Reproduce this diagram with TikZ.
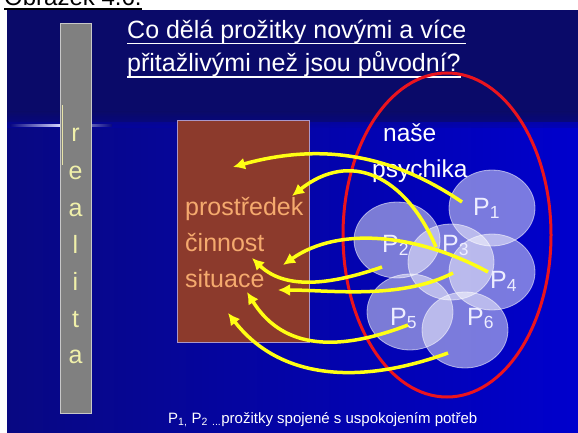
\documentclass[tikz,border=0pt]{standalone}
\usepackage{fontspec}
\setmainfont{Liberation Sans}
\usetikzlibrary{arrows.meta,shapes.geometric}
\definecolor{navy}{RGB}{10,10,105}
\definecolor{blueL}{RGB}{8,8,130}
\definecolor{blueR}{RGB}{0,0,205}
\definecolor{barGray}{RGB}{128,128,128}
\definecolor{barEdge}{RGB}{200,200,200}
\definecolor{barText}{RGB}{240,240,170}
\definecolor{boxFill}{RGB}{140,58,44}
\definecolor{boxEdge}{RGB}{170,150,200}
\definecolor{boxText}{RGB}{245,170,110}
\definecolor{ellRed}{RGB}{235,20,30}
\definecolor{arrowYellow}{RGB}{255,255,20}
\definecolor{labText}{RGB}{238,238,255}
\begin{document}
\begin{tikzpicture}[x=1pt,y=-1pt,
  titletext/.style={anchor=base west, inner sep=0, text=white, font=\fontsize{25}{25}\selectfont},
  bartext/.style={anchor=base, inner sep=0, text=barText, font=\fontsize{25}{25}\selectfont},
  boxtext/.style={anchor=base west, inner sep=0, text=boxText, font=\fontsize{25}{25}\selectfont},
  psytext/.style={anchor=base west, inner sep=0, text=white, font=\fontsize{24.5}{24.5}\selectfont},
  pcirc/.style={ellipse, minimum width=86pt, minimum height=76pt, inner sep=0, fill=white, fill opacity=0.48, draw=white, draw opacity=0.55, line width=0.8pt},
  plab/.style={anchor=base west, inner sep=0, text=labText, font=\fontsize{25}{25}\selectfont},
  arr/.style={draw=arrowYellow, line width=3.5pt, -{Latex[length=12pt,width=12pt]}},
  uline/.style={draw=white, line width=1.3pt}]
\useasboundingbox (0,0) rectangle (578,433);
\clip (0,0) rectangle (578,433);
\fill[white] (0,0) rectangle (578,433);
% caption above slide (cut off by the slide, as in the reference)
\node[anchor=base west, inner sep=0, font=\fontsize{24}{24}\selectfont] (cap) at (4,6) {Obrázek 4.6.};
\draw[line width=1.2pt] ([yshift=-3pt]cap.base west) -- ([yshift=-3pt]cap.base east);
% slide background
\fill[navy] (7,10) rectangle (578,433);
\shade[left color=blueL, right color=blueR] (7,123) rectangle (578,433);
\shade[top color=navy, bottom color=blueL!50!blueR, opacity=0.5] (7,112) rectangle (578,128);
% glare
\shade[left color=blueL, right color=blueL, middle color=white!85!blue] (10,124.3) rectangle (112,126.2);
% realita bar
\draw[draw=barEdge, fill=barGray, line width=0.6pt] (60,23) rectangle (91,413);
\draw[white!70!yellow, line width=0.8pt, opacity=0.8] (62,105) -- (62,165);
\node[bartext] (r1) at (75.5,142) {r};
\node[bartext] (r2) at (75.5,179) {e};
\node[bartext] (r3) at (75.5,216) {a};
\node[bartext] (r4) at (75.5,253) {l};
\node[bartext] (r5) at (75.5,290) {i};
\node[bartext] (r6) at (75.5,327) {t};
\node[bartext] (r7) at (75.5,363) {a};
% title
\node[titletext] (t1) at (127,39) {Co dělá prožitky novými a více};
\node[titletext] (t2) at (127,72) {přitažlivými než jsou původní?};
\draw[uline] ([yshift=-4.5pt]t1.base west) -- ([yshift=-4.5pt]t1.base east);
\draw[uline] ([yshift=-5pt]t2.base west) -- ([yshift=-5pt]t2.base east);
% brown box
\node[draw=boxEdge, fill=boxFill, line width=0.6pt, minimum width=132pt, minimum height=222pt, anchor=north west, inner sep=0] (box) at (177,120) {};
\node[boxtext] (b1) at (185,215) {prostředek};
\node[boxtext] (b2) at (185,251) {činnost};
\node[boxtext] (b3) at (185,287) {situace};
% psyche ellipse
\draw[ellRed, line width=3pt] (447,235) ellipse [x radius=104, y radius=162];
\node[psytext] (n1) at (383,142) {naše};
\node[psytext] (n2) at (372,177) {psychika};
% circles
\node[pcirc] (p1) at (492,208) {};
\node[pcirc] (p2) at (397,240) {};
\node[pcirc] (p3) at (451,262) {};
\node[pcirc] (p4) at (492,272) {};
\node[pcirc] (p5) at (410,312) {};
\node[pcirc] (p6) at (465,330) {};
\node[plab] (l1) at (473,215) {P\textsubscript{1}};
\node[plab] (l2) at (382,252) {P\textsubscript{2}};
\node[plab] (l3) at (442,252) {P\textsubscript{3}};
\node[plab] (l4) at (490,288) {P\textsubscript{4}};
\node[plab] (l5) at (390,325) {P\textsubscript{5}};
\node[plab] (l6) at (467,325) {P\textsubscript{6}};
% arrow ends
\coordinate (sA) at (462,202); \coordinate (tA) at (233,167);
\coordinate (sB) at (436,247); \coordinate (tB) at (292,196);
\coordinate (sC) at (488,272); \coordinate (tC) at (283,265);
\coordinate (sD) at (382,267); \coordinate (tD) at (252,258);
\coordinate (sE) at (453,273); \coordinate (tE) at (278,290);
\coordinate (sF) at (408,325); \coordinate (tF) at (247,292);
\coordinate (sG) at (448,353); \coordinate (tG) at (228,313);
\draw[arr] (sA) .. controls (400,160) and (330,140) .. (tA);
\draw[arr] (sB) .. controls (405,175) and (350,150) .. (tB);
\draw[arr] (sC) .. controls (420,235) and (340,225) .. (tC);
\draw[arr] (sD) .. controls (330,285) and (285,290) .. (tD);
\draw[arr] (sE) .. controls (400,300) and (330,290) .. (tE);
\draw[arr] (sF) .. controls (330,355) and (280,345) .. (tF);
\draw[arr] (sG) .. controls (360,385) and (280,380) .. (tG);
% bottom note
\node[anchor=base west, inner sep=0, text=white, font=\fontsize{15}{15}\selectfont] (note) at (168,423) {P\textsubscript{1,} P\textsubscript{2} \textsubscript{...}prožitky spojené s uspokojením potřeb};
\end{tikzpicture}
\end{document}
